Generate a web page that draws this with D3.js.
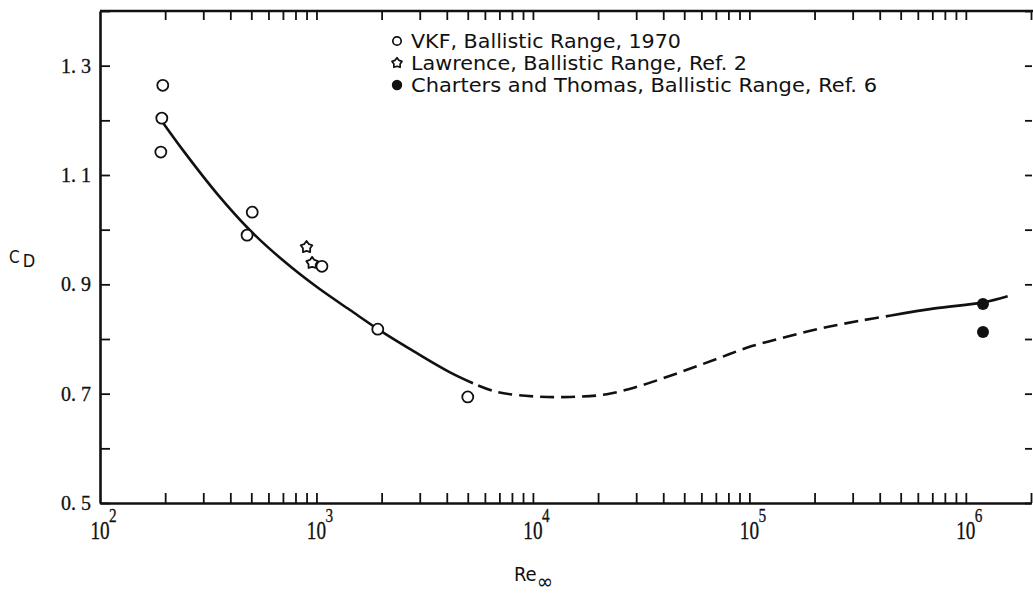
<!DOCTYPE html>
<html>
<head>
<meta charset="utf-8">
<script src="https://cdn.jsdelivr.net/npm/d3@7"></script>
<style>
  html, body { margin: 0; padding: 0; background: #fff; }
  svg { display: block; }
  .num { font-family: "Liberation Serif", "DejaVu Serif", serif; fill: #111; stroke: #111; stroke-width: 0.3; }
  .lab { font-family: "DejaVu Sans Condensed", "Liberation Sans Narrow", "DejaVu Sans", sans-serif; font-stretch: condensed; fill: #111; }
</style>
</head>
<body>
<svg id="chart" width="1033" height="594"></svg>
<script>
// Drag coefficient of a sphere vs free-stream Reynolds number

// VKF ballistic range, 1970 (open circles)
const vkfRe = [195, 193, 191, 505, 478, 1060, 1920, 5000];
const vkfCd = [1.264, 1.204, 1.142, 1.032, 0.990, 0.933, 0.818, 0.694];

// Lawrence, ballistic range, Ref. 2 (stars)
const lawRe = [900, 955];
const lawCd = [0.968, 0.939];

// Charters and Thomas, ballistic range, Ref. 6 (filled circles)
const chtRe = [1.2e6, 1.2e6];
const chtCd = [0.864, 0.813];

// Faired curve: solid where supported by data, dashed across the gap
const fitLowRe  = [195, 242, 347, 493, 700, 1005, 1429, 2028, 2911, 4140, 5285];
const fitLowCd  = [1.196, 1.145, 1.066, 0.999, 0.944, 0.895, 0.853, 0.812, 0.774, 0.739, 0.719];
const fitMidRe  = [5285, 6820, 10110, 14830, 21980, 32220, 47750, 70000, 102700, 152000, 223000, 331000, 451000];
const fitMidCd  = [0.719, 0.703, 0.695, 0.694, 0.699, 0.716, 0.739, 0.763, 0.787, 0.805, 0.821, 0.834, 0.843];
const fitHighRe = [451000, 719000, 1210000, 1560000];
const fitHighCd = [0.843, 0.856, 0.867, 0.878];

// Axis ticks and labels
const decadeExps = [2, 3, 4, 5, 6];
const yTickValues = [0.5, 0.6, 0.7, 0.8, 0.9, 1.0, 1.1, 1.2, 1.3, 1.4];
const yLabelValues = [0.5, 0.7, 0.9, 1.1, 1.3];

const legendItems = [
  { kind: "open",   text: "VKF, Ballistic Range, 1970", width: 270 },
  { kind: "star",   text: "Lawrence, Ballistic Range, Ref. 2", width: 336 },
  { kind: "filled", text: "Charters and Thomas, Ballistic Range, Ref. 6", width: 466 }
];

const svg = d3.select("#chart");
svg.append("rect").attr("width", 1033).attr("height", 594).attr("fill", "#fff");

const x = d3.scaleLog().domain([100, 2e6]).range([100, 1031]);
const y = d3.scaleLinear().domain([0.5, 1.4]).range([503, 11]);

const ink = "#111";

// Log ticks: 1..9 x each decade
const logTicks = [];
for (let e = 2; e <= 6; e++) {
  for (let m = 1; m <= 9; m++) {
    const v = m * Math.pow(10, e);
    if (v > 100 && v <= 2e6) logTicks.push(v);
  }
}

function styleAxis(g, w) {
  g.select(".domain").attr("stroke", ink).attr("stroke-width", w);
  g.selectAll(".tick line").attr("stroke", ink).attr("stroke-width", 1.8);
}

// Bottom axis (ticks inward)
const gB = svg.append("g").attr("transform", `translate(0,${y(0.5)})`)
  .call(d3.axisBottom(x).tickValues(logTicks).tickSizeInner(-10).tickSizeOuter(0).tickFormat(""));
styleAxis(gB, 2.6);

// Top axis, running to the page edge
const gT = svg.append("g").attr("transform", `translate(0,${y(1.4)})`)
  .call(d3.axisTop(x).tickValues(logTicks).tickSizeInner(-9).tickSizeOuter(0).tickFormat(""));
styleAxis(gT, 2.4);
gT.select(".domain").attr("d", `M${x(100)},0H1033`);

// Left axis with labels in "1. 3" style
const gL = svg.append("g").attr("transform", `translate(${x(100)},0)`)
  .call(d3.axisLeft(y).tickValues(yTickValues).tickSizeInner(-10).tickSizeOuter(0).tickPadding(9)
    .tickFormat(d => yLabelValues.some(v => Math.abs(v - d) < 1e-9) ? d3.format(".1f")(d).replace(".", ". ") : ""));
styleAxis(gL, 2.6);
gL.selectAll(".tick text").attr("class", "num").attr("font-size", 20);

// Right axis: ticks only, its spine sits on the page edge
const gR = svg.append("g").attr("transform", `translate(1032,0)`)
  .call(d3.axisRight(y).tickValues(yTickValues).tickSizeInner(-7).tickSizeOuter(0).tickFormat(""));
styleAxis(gR, 0);
gR.select(".domain").attr("stroke", "none");

// Decade labels 10^n
decadeExps.forEach(e => {
  const cx = x(Math.pow(10, e));
  svg.append("text").attr("class", "num")
    .attr("transform", `translate(${cx},539) scale(0.8,1.05)`)
    .attr("font-size", 24).attr("text-anchor", "middle").text("10");
  svg.append("text").attr("class", "num")
    .attr("transform", `translate(${cx + 9},522) scale(0.85,1.05)`)
    .attr("font-size", 18).text(String(e));
});

// Axis titles
const cd = svg.append("text").attr("class", "lab").attr("x", 9).attr("y", 263).attr("font-size", 17);
cd.append("tspan").text("C");
cd.append("tspan").attr("dx", 3).attr("dy", 4).attr("font-size", 18).text("D");

const re = svg.append("text").attr("class", "lab").attr("x", 514).attr("y", 581).attr("font-size", 20);
re.append("tspan").text("Re");
re.append("tspan").attr("dy", 8).attr("font-size", 22).text("∞");

// Faired curve
const line = d3.line().x(d => x(d[0])).y(d => y(d[1])).curve(d3.curveCatmullRom.alpha(0.5));
const zip = (a, b) => a.map((v, i) => [v, b[i]]);

svg.append("path").datum(zip(fitLowRe, fitLowCd)).attr("d", line)
  .attr("fill", "none").attr("stroke", ink).attr("stroke-width", 2.6);
svg.append("path").datum(zip(fitMidRe, fitMidCd)).attr("d", line)
  .attr("fill", "none").attr("stroke", ink).attr("stroke-width", 2.6)
  .attr("stroke-dasharray", "14 7").attr("stroke-dashoffset", -6);
svg.append("path").datum(zip(fitHighRe, fitHighCd)).attr("d", line)
  .attr("fill", "none").attr("stroke", ink).attr("stroke-width", 2.6);

// Chunky five-point star symbol
const fatStar = {
  draw(ctx, size) {
    const R = Math.sqrt(size / 1.6);
    const r = R * 0.62;
    for (let i = 0; i < 10; i++) {
      const a = -Math.PI / 2 + i * Math.PI / 5;
      const rr = i % 2 === 0 ? R : r;
      const px = rr * Math.cos(a), py = rr * Math.sin(a);
      if (i === 0) ctx.moveTo(px, py); else ctx.lineTo(px, py);
    }
    ctx.closePath();
  }
};

// Data points
svg.append("g").selectAll("circle").data(zip(vkfRe, vkfCd)).join("circle")
  .attr("cx", d => x(d[0])).attr("cy", d => y(d[1])).attr("r", 5.5)
  .attr("fill", "#fff").attr("stroke", ink).attr("stroke-width", 1.8);

svg.append("g").selectAll("path").data(zip(lawRe, lawCd)).join("path")
  .attr("transform", d => `translate(${x(d[0])},${y(d[1])})`)
  .attr("d", d3.symbol().type(fatStar).size(60))
  .attr("fill", "#fff").attr("stroke", ink).attr("stroke-width", 1.8).attr("stroke-linejoin", "round");

svg.append("g").selectAll("circle").data(zip(chtRe, chtCd)).join("circle")
  .attr("cx", d => x(d[0])).attr("cy", d => y(d[1])).attr("r", 6)
  .attr("fill", ink);

// Legend
const lg = svg.append("g");
legendItems.forEach((it, i) => {
  const cy = 41 + i * 22;
  if (it.kind === "open") {
    lg.append("circle").attr("cx", 397).attr("cy", cy).attr("r", 4.2)
      .attr("fill", "#fff").attr("stroke", ink).attr("stroke-width", 1.7);
  } else if (it.kind === "star") {
    lg.append("path").attr("transform", `translate(397,${cy})`)
      .attr("d", d3.symbol().type(fatStar).size(45))
      .attr("fill", "#fff").attr("stroke", ink).attr("stroke-width", 1.7).attr("stroke-linejoin", "round");
  } else {
    lg.append("circle").attr("cx", 397).attr("cy", cy).attr("r", 5.2).attr("fill", ink);
  }
  lg.append("text").attr("class", "lab").attr("x", 411).attr("y", cy + 7)
    .attr("font-size", 19).attr("textLength", it.width).attr("lengthAdjust", "spacingAndGlyphs")
    .text(it.text);
});
</script>
</body>
</html>
